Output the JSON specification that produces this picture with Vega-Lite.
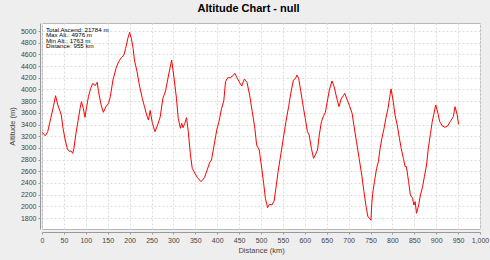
{
  "$schema": "https://vega.github.io/schema/vega-lite/v6.json",
  "width": 438,
  "height": 206,
  "autosize": {"type": "none"},
  "padding": {"left": 42, "top": 23, "right": 10, "bottom": 31},
  "background": "#eeeeee",
  "title": {
    "text": "Altitude Chart - null",
    "fontSize": 11,
    "fontWeight": "bold",
    "font": "Liberation Sans",
    "color": "#000000",
    "anchor": "middle",
    "frame": "bounds",
    "offset": 9
  },
  "config": {
    "view": {"fill": "#ffffff", "stroke": "#b8b8b8", "strokeWidth": 1},
    "axis": {
      "labelFont": "Liberation Sans",
      "titleFont": "Liberation Sans",
      "labelFontSize": 7,
      "titleFontSize": 7.5,
      "titleFontWeight": "normal",
      "labelColor": "#444444",
      "titleColor": "#444444",
      "domainColor": "#999999",
      "tickColor": "#999999",
      "tickSize": 2,
      "gridColor": "#dddddd",
      "gridDash": [2, 2],
      "gridWidth": 1,
      "labelOverlap": false,
      "labelSeparation": 0
    }
  },
  "data": {
    "values": [
      {"d": 1, "alt": 3267}, {"d": 4, "alt": 3230}, {"d": 8, "alt": 3209}, {"d": 13, "alt": 3277},
      {"d": 20, "alt": 3506}, {"d": 26, "alt": 3705}, {"d": 31, "alt": 3893}, {"d": 36, "alt": 3734},
      {"d": 41, "alt": 3631}, {"d": 44, "alt": 3563}, {"d": 48, "alt": 3335}, {"d": 53, "alt": 3135},
      {"d": 58, "alt": 2981}, {"d": 63, "alt": 2935}, {"d": 66, "alt": 2950}, {"d": 70, "alt": 2907},
      {"d": 73, "alt": 2993}, {"d": 77, "alt": 3221}, {"d": 82, "alt": 3449}, {"d": 87, "alt": 3677},
      {"d": 90, "alt": 3791}, {"d": 94, "alt": 3688}, {"d": 98, "alt": 3523}, {"d": 102, "alt": 3705},
      {"d": 106, "alt": 3876}, {"d": 111, "alt": 4019}, {"d": 116, "alt": 4105}, {"d": 121, "alt": 4064},
      {"d": 126, "alt": 4122}, {"d": 129, "alt": 3962}, {"d": 135, "alt": 3734}, {"d": 140, "alt": 3609},
      {"d": 146, "alt": 3705}, {"d": 152, "alt": 3763}, {"d": 156, "alt": 3876}, {"d": 162, "alt": 4162},
      {"d": 169, "alt": 4362}, {"d": 175, "alt": 4475}, {"d": 181, "alt": 4543}, {"d": 187, "alt": 4589},
      {"d": 191, "alt": 4704}, {"d": 196, "alt": 4875}, {"d": 200, "alt": 4976}, {"d": 204, "alt": 4875},
      {"d": 208, "alt": 4704}, {"d": 211, "alt": 4504}, {"d": 217, "alt": 4304}, {"d": 223, "alt": 4047},
      {"d": 229, "alt": 3849}, {"d": 234, "alt": 3705}, {"d": 239, "alt": 3563}, {"d": 243, "alt": 3477},
      {"d": 247, "alt": 3640}, {"d": 252, "alt": 3420}, {"d": 258, "alt": 3277}, {"d": 264, "alt": 3392},
      {"d": 270, "alt": 3534}, {"d": 276, "alt": 3849}, {"d": 282, "alt": 3974}, {"d": 289, "alt": 4247},
      {"d": 296, "alt": 4504}, {"d": 302, "alt": 4162}, {"d": 307, "alt": 3849}, {"d": 311, "alt": 3506},
      {"d": 316, "alt": 3335}, {"d": 319, "alt": 3420}, {"d": 322, "alt": 3346}, {"d": 326, "alt": 3420},
      {"d": 330, "alt": 3517}, {"d": 334, "alt": 3277}, {"d": 339, "alt": 2879}, {"d": 343, "alt": 2651},
      {"d": 349, "alt": 2565}, {"d": 355, "alt": 2490}, {"d": 363, "alt": 2422}, {"d": 371, "alt": 2490},
      {"d": 377, "alt": 2622}, {"d": 383, "alt": 2754}, {"d": 387, "alt": 2793}, {"d": 393, "alt": 3050},
      {"d": 399, "alt": 3306}, {"d": 404, "alt": 3449}, {"d": 410, "alt": 3677}, {"d": 415, "alt": 3802},
      {"d": 419, "alt": 4133}, {"d": 424, "alt": 4201}, {"d": 430, "alt": 4201}, {"d": 436, "alt": 4236},
      {"d": 440, "alt": 4276}, {"d": 445, "alt": 4201}, {"d": 450, "alt": 4133}, {"d": 456, "alt": 4059},
      {"d": 462, "alt": 4179}, {"d": 468, "alt": 4122}, {"d": 474, "alt": 3905}, {"d": 480, "alt": 3620},
      {"d": 486, "alt": 3335}, {"d": 490, "alt": 3050}, {"d": 496, "alt": 2964}, {"d": 501, "alt": 2690},
      {"d": 506, "alt": 2394}, {"d": 510, "alt": 2138}, {"d": 515, "alt": 1977}, {"d": 519, "alt": 2035},
      {"d": 525, "alt": 2023}, {"d": 530, "alt": 2092}, {"d": 535, "alt": 2365}, {"d": 539, "alt": 2593},
      {"d": 545, "alt": 2879}, {"d": 551, "alt": 3164}, {"d": 557, "alt": 3449}, {"d": 563, "alt": 3705},
      {"d": 568, "alt": 3934}, {"d": 574, "alt": 4162}, {"d": 579, "alt": 4191}, {"d": 582, "alt": 4247},
      {"d": 586, "alt": 4191}, {"d": 591, "alt": 3962}, {"d": 597, "alt": 3677}, {"d": 601, "alt": 3506},
      {"d": 606, "alt": 3277}, {"d": 610, "alt": 3221}, {"d": 615, "alt": 2993}, {"d": 620, "alt": 2822},
      {"d": 624, "alt": 2879}, {"d": 629, "alt": 2964}, {"d": 633, "alt": 3221}, {"d": 638, "alt": 3449},
      {"d": 642, "alt": 3534}, {"d": 647, "alt": 3609}, {"d": 652, "alt": 3819}, {"d": 656, "alt": 3991},
      {"d": 662, "alt": 4145}, {"d": 667, "alt": 4047}, {"d": 673, "alt": 3849}, {"d": 678, "alt": 3705},
      {"d": 683, "alt": 3837}, {"d": 688, "alt": 3893}, {"d": 691, "alt": 3934}, {"d": 696, "alt": 3837},
      {"d": 702, "alt": 3722}, {"d": 708, "alt": 3592}, {"d": 712, "alt": 3392}, {"d": 718, "alt": 3107},
      {"d": 724, "alt": 2822}, {"d": 730, "alt": 2536}, {"d": 735, "alt": 2251}, {"d": 740, "alt": 1994},
      {"d": 744, "alt": 1823}, {"d": 748, "alt": 1794}, {"d": 751, "alt": 1763}, {"d": 753, "alt": 2052},
      {"d": 755, "alt": 2223}, {"d": 759, "alt": 2422}, {"d": 764, "alt": 2651}, {"d": 768, "alt": 2764},
      {"d": 772, "alt": 2993}, {"d": 776, "alt": 3164}, {"d": 781, "alt": 3335}, {"d": 785, "alt": 3506},
      {"d": 790, "alt": 3677}, {"d": 794, "alt": 3876}, {"d": 797, "alt": 4008}, {"d": 802, "alt": 3791},
      {"d": 806, "alt": 3563}, {"d": 811, "alt": 3392}, {"d": 816, "alt": 3164}, {"d": 820, "alt": 2993},
      {"d": 825, "alt": 2822}, {"d": 829, "alt": 2679}, {"d": 832, "alt": 2679}, {"d": 837, "alt": 2422},
      {"d": 841, "alt": 2194}, {"d": 846, "alt": 2138}, {"d": 849, "alt": 2023}, {"d": 852, "alt": 2080},
      {"d": 855, "alt": 1881}, {"d": 860, "alt": 2023}, {"d": 864, "alt": 2194}, {"d": 869, "alt": 2336},
      {"d": 873, "alt": 2507}, {"d": 878, "alt": 2707}, {"d": 882, "alt": 2993}, {"d": 887, "alt": 3250},
      {"d": 891, "alt": 3449}, {"d": 895, "alt": 3592}, {"d": 899, "alt": 3734}, {"d": 904, "alt": 3592},
      {"d": 908, "alt": 3449}, {"d": 914, "alt": 3375}, {"d": 920, "alt": 3352}, {"d": 926, "alt": 3375},
      {"d": 932, "alt": 3449}, {"d": 939, "alt": 3534}, {"d": 943, "alt": 3705}, {"d": 948, "alt": 3563},
      {"d": 951, "alt": 3404}
    ]
  },
  "layer": [
    {
      "mark": {"type": "line", "color": "#ff0000", "strokeWidth": 1, "interpolate": "linear"},
      "encoding": {
        "x": {
          "field": "d",
          "type": "quantitative",
          "scale": {"domain": [0, 1000], "nice": false, "zero": false},
          "axis": {
            "title": "Distance (km)",
            "values": [0, 50, 100, 150, 200, 250, 300, 350, 400, 450, 500, 550, 600, 650, 700, 750, 800, 850, 900, 950, 1000],
            "tickCount": 40,
            "format": ",.0f",
            "offset": 3,
            "labelPadding": 2,
            "titlePadding": 3,
            "labelFlush": false,
            "labelOverlap": false
          }
        },
        "y": {
          "field": "alt",
          "type": "quantitative",
          "scale": {"domain": [1612, 5137], "nice": false, "zero": false},
          "axis": {
            "title": "Altitude (m)",
            "values": [1800, 2000, 2200, 2400, 2600, 2800, 3000, 3200, 3400, 3600, 3800, 4000, 4200, 4400, 4600, 4800, 5000],
            "tickCount": 40,
            "format": ".0f",
            "offset": 2,
            "labelPadding": 2,
            "titlePadding": 4,
            "labelOverlap": false
          }
        }
      }
    },
    {
      "data": {"values": [{"info": ["Total Ascend: 21784 m", "Max Alt.: 4976 m", "Min Alt.: 1763 m", "Distance: 955 km"]}]},
      "mark": {
        "type": "text",
        "align": "left",
        "baseline": "top",
        "font": "Liberation Sans",
        "fontSize": 6.2,
        "lineHeight": 5.6,
        "color": "#000000"
      },
      "encoding": {
        "x": {"datum": 9, "type": "quantitative"},
        "y": {"datum": 5077, "type": "quantitative"},
        "text": {"field": "info"}
      }
    }
  ]
}
